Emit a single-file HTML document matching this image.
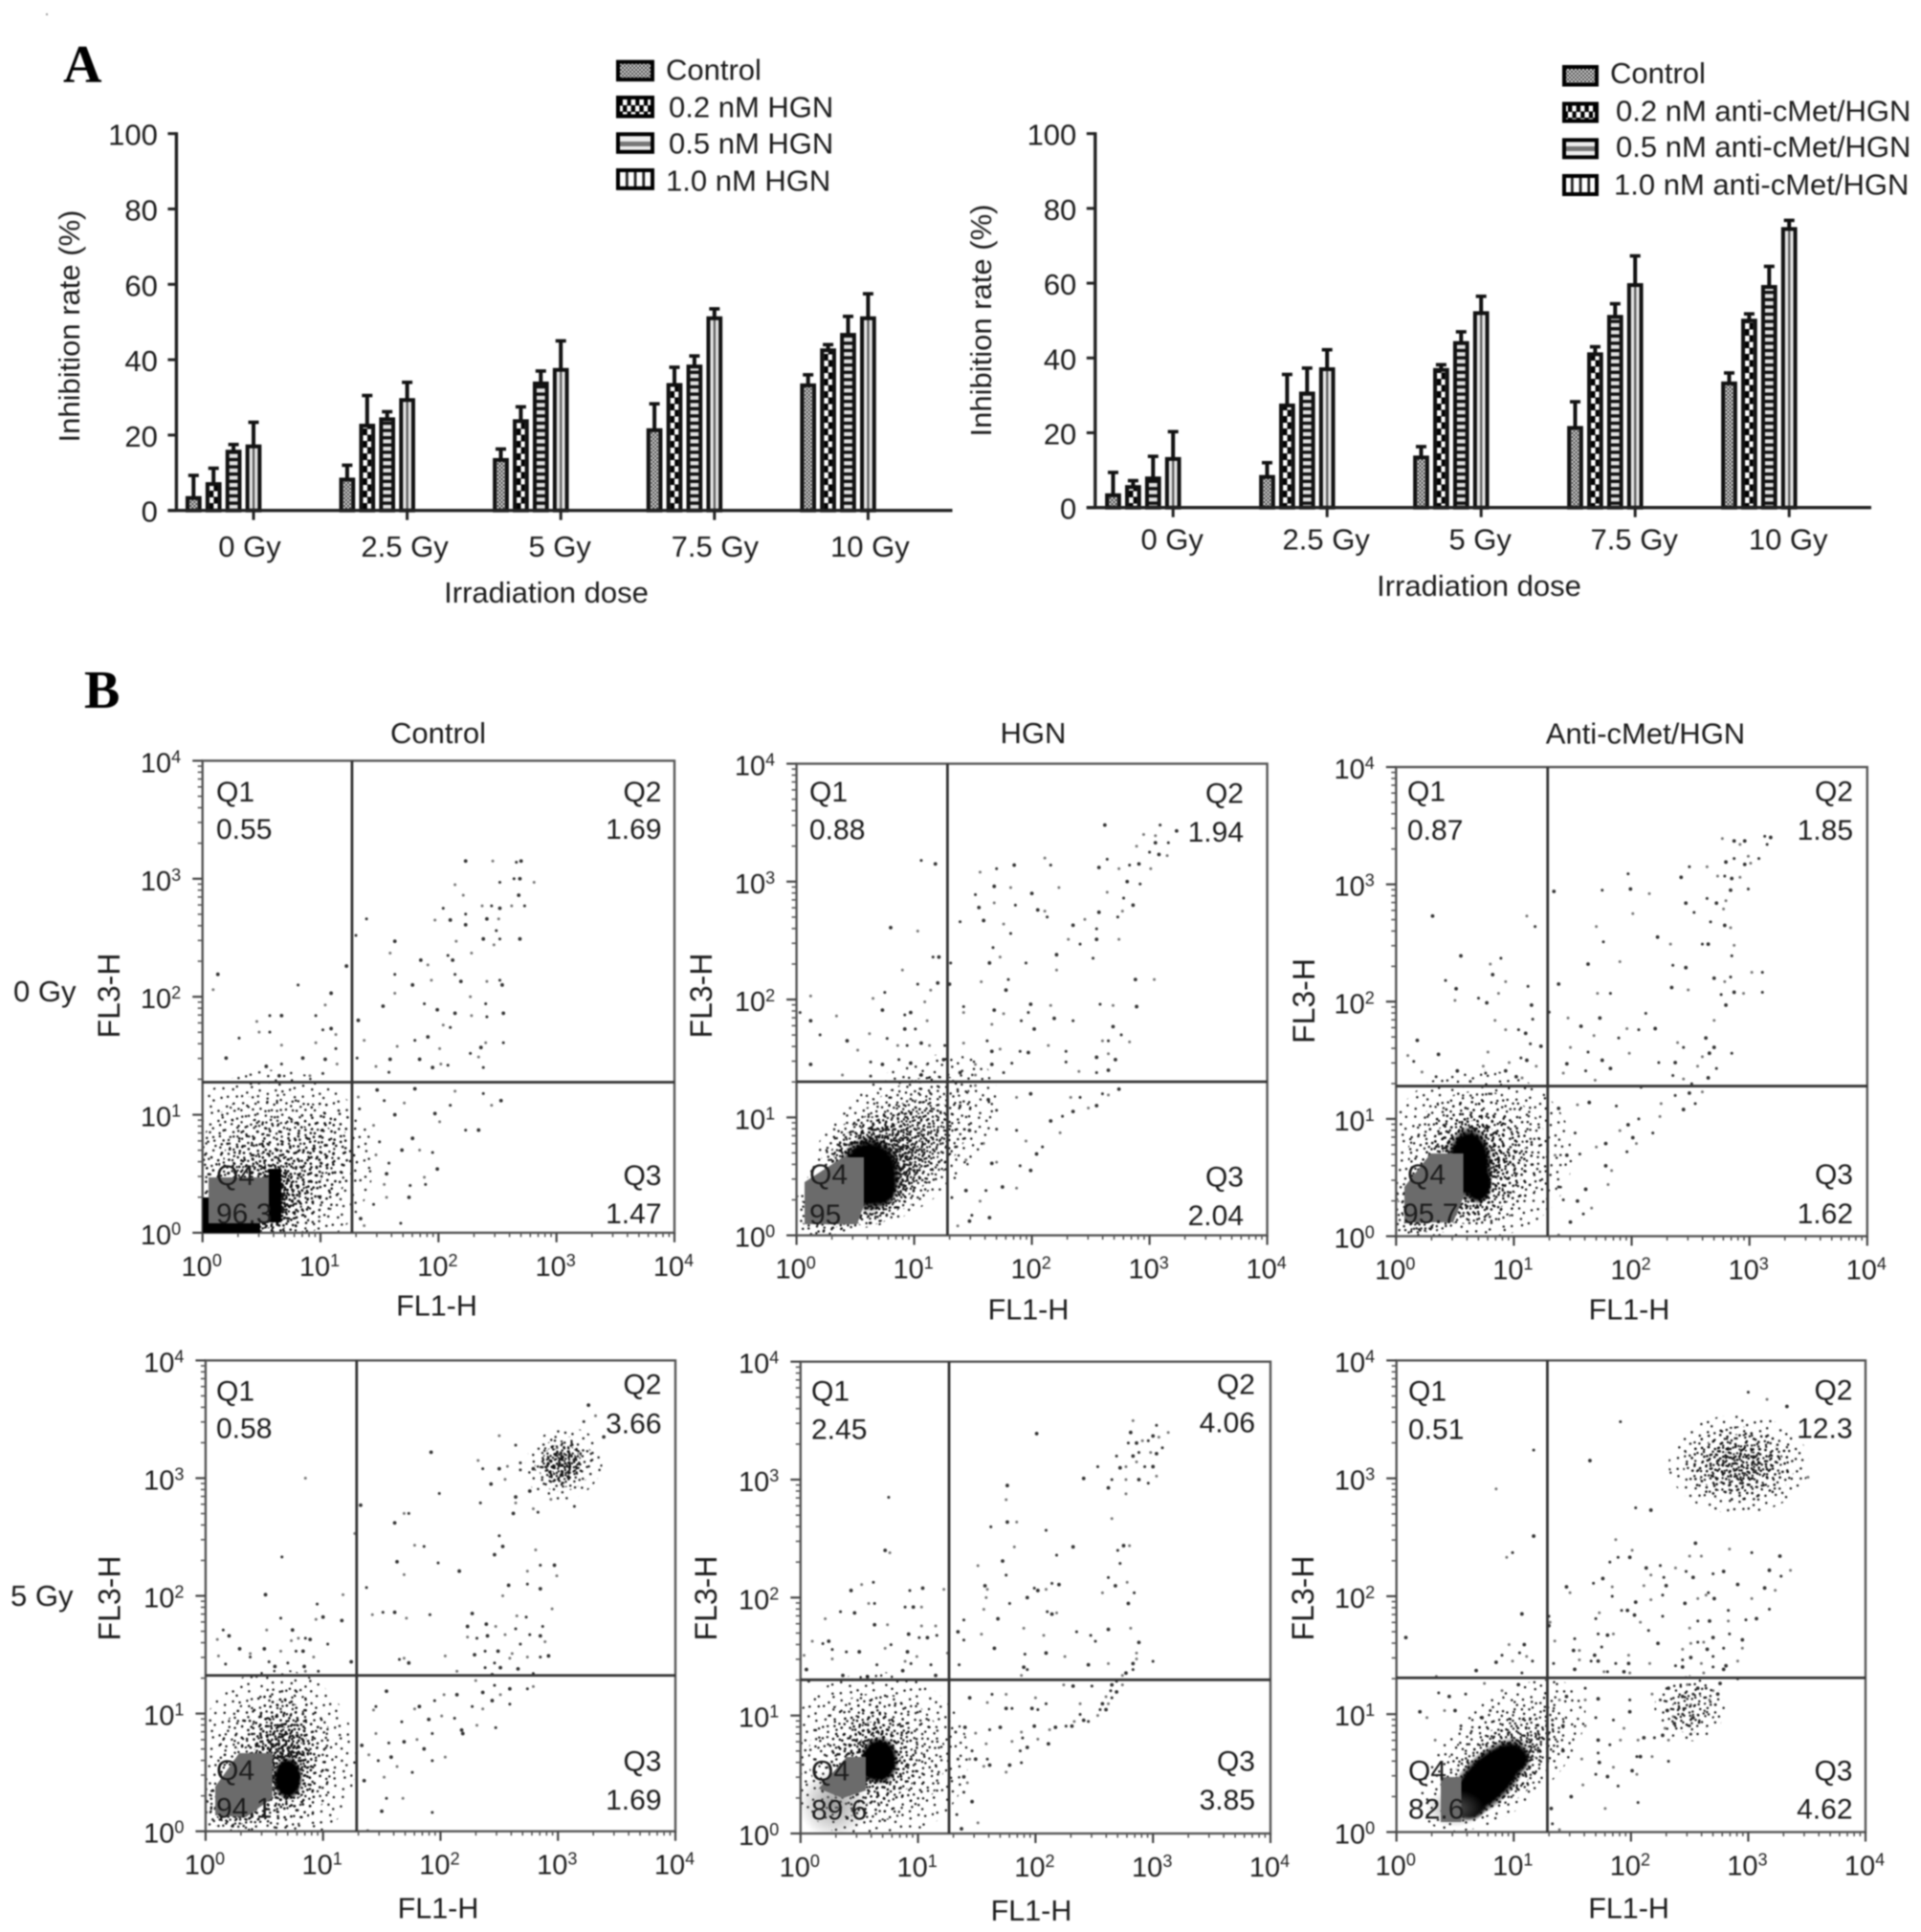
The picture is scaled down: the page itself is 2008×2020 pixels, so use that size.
<!DOCTYPE html>
<html lang="en">
<head>
<meta charset="utf-8">
<title>Inhibition rate and flow cytometry figure</title>
<style>
html,body{margin:0;padding:0;background:#fff;width:2008px;height:2020px;overflow:hidden}
svg{display:block;filter:blur(.7px)}
text{font-family:"Liberation Sans",Arial,sans-serif;fill:#1c1c1c}
.panel-letter{font-family:"Liberation Serif","Times New Roman",serif;font-weight:bold;font-size:56px;fill:#000}
.t30{font-size:31px}
.q{font-size:30px}
.end{text-anchor:end}
.mid{text-anchor:middle}
</style>
</head>
<body>
<svg id="fig" xmlns="http://www.w3.org/2000/svg" width="2008" height="2020" viewBox="0 0 2008 2020">
<defs>
<pattern id="fill-control" patternUnits="userSpaceOnUse" width="4" height="4"><rect width="4" height="4" fill="#ddd"/><rect width="2" height="2" fill="#444"/><rect x="2" y="2" width="2" height="2" fill="#444"/></pattern>
<pattern id="fill-02" patternUnits="userSpaceOnUse" x="-4.35" width="8.7" height="13"><rect width="8.7" height="13" fill="#000"/><rect x="0" y="0" width="4.6" height="6" fill="#fff"/><rect x="4.4" y="6.5" width="4.3" height="6" fill="#fff"/></pattern>
<pattern id="fill-05" patternUnits="userSpaceOnUse" width="8" height="7.6"><rect width="8" height="7.6" fill="#e2e2e2"/><rect width="8" height="3.4" fill="#111"/></pattern>
<pattern id="fill-10" patternUnits="userSpaceOnUse" x="-4.35" width="8.7" height="8"><rect width="8.7" height="8" fill="#e6e6e6"/><rect x="3.3" width="2.2" height="8" fill="#555"/></pattern>
<pattern id="legend-fill-05" patternUnits="userSpaceOnUse" y="2" width="8" height="18"><rect width="8" height="18" fill="#f0f0f0"/><rect y="7" width="8" height="5" fill="#777"/></pattern>
<pattern id="legend-fill-10" patternUnits="userSpaceOnUse" x="-4.35" width="8.7" height="8"><rect width="8.7" height="8" fill="#fff"/><rect x="3" width="2.8" height="8" fill="#222"/></pattern>
<g id="speck-tile"><path fill="none" stroke="#111" stroke-linecap="round" d="M5 9h.1M17 3h.1M28 12h.1M41 6h.1M9 22h.1M22 27h.1M35 19h.1M46 31h.1M3 38h.1M14 44h.1M30 36h.1M40 45h.1M19 15h.1M44 16h.1M11 33h.1M26 4h.1M37 29h.1M6 47h.1M33 46h.1M24 40h.1M1 14h.1M47 41h.1M16 24h.1M29 22h.1M38 10h.1M8 2h.1M21 34h.1M43 24h.1M12 12h.1M35 39h.1"/></g>
<pattern id="s1" patternUnits="userSpaceOnUse" width="48" height="48" patternTransform="rotate(17) scale(1)"><use href="#speck-tile" style="stroke-width:2.4"/></pattern>
<pattern id="s2" patternUnits="userSpaceOnUse" width="48" height="48" patternTransform="rotate(-31) scale(.9)"><use href="#speck-tile" style="stroke-width:2.7"/></pattern>
<pattern id="s3" patternUnits="userSpaceOnUse" width="48" height="48" patternTransform="rotate(53) scale(.8)"><use href="#speck-tile" style="stroke-width:3"/></pattern>
<pattern id="s4" patternUnits="userSpaceOnUse" width="48" height="48" patternTransform="rotate(-71) scale(.7)"><use href="#speck-tile" style="stroke-width:3.4"/></pattern>
<pattern id="s5" patternUnits="userSpaceOnUse" width="48" height="48" patternTransform="rotate(37) scale(.6)"><use href="#speck-tile" style="stroke-width:4"/></pattern>
<pattern id="s6" patternUnits="userSpaceOnUse" width="48" height="48" patternTransform="rotate(-13) scale(.5)"><use href="#speck-tile" style="stroke-width:4.8"/></pattern>
<radialGradient id="solid-grad"><stop offset="0" stop-color="#000"/><stop offset=".72" stop-color="#000"/><stop offset="1" stop-color="#000" stop-opacity="0"/></radialGradient>
<radialGradient id="haze-grad"><stop offset="0" stop-color="#777" stop-opacity=".7"/><stop offset="1" stop-color="#777" stop-opacity="0"/></radialGradient>
</defs>
<rect width="2008" height="2020" fill="#fff"/>
<rect x="48" y="14" width="2" height="2" fill="#999"/>
<g id="dynamic"></g>

<!-- Q4 gray gate patches -->
<g fill="#6b6b6b">
<rect x="212" y="1279" width="60" height="10" fill="#000"/>
<rect x="281" y="1222" width="13" height="56" fill="#000"/>
<rect x="212" y="1252" width="6" height="37" fill="#000"/>
<rect x="218" y="1231" width="63" height="48"/>
<polygon points="841,1280 841,1236 881,1210 903,1210 903,1260 896,1280"/>
<polygon points="1468,1278 1468,1241 1495.5,1206 1529.6,1206 1529.6,1252 1519,1278"/>
<polygon points="225,1898 225,1868 250,1833 284.7,1833 284.7,1880 257,1900"/>
<polygon points="855.7,1870 885,1837 905,1837 905,1872 881,1880"/>
<rect x="1506" y="1858" width="21.5" height="47"/>
</g>

<!-- Panel letters -->
<text class="panel-letter" x="66" y="86">A</text>
<text class="panel-letter" x="88" y="740">B</text>

<!-- Bar chart axis titles -->
<text class="t30" transform="translate(83,341) rotate(-90)" text-anchor="middle">Inhibition rate (%)</text>
<text class="t30 mid" x="571" y="630">Irradiation dose</text>
<text class="t30" transform="translate(1036,335) rotate(-90)" text-anchor="middle">Inhibition rate (%)</text>
<text class="t30 mid" x="1546" y="623">Irradiation dose</text>

<!-- Legend 1 -->
<g>
<g transform="translate(664,0)" stroke="#000" stroke-width="4">
<rect x="-18" y="64.7" width="36" height="18.5" fill="url(#fill-control)"/>
<rect x="-18" y="102" width="36" height="19.5" fill="url(#fill-02)"/>
<rect x="-18" y="140.3" width="36" height="18.5" fill="#eee"/>
<rect x="-16" y="148" width="32" height="5" fill="#777" stroke="none"/>
<rect x="-18" y="178" width="36" height="18.8" fill="url(#legend-fill-10)"/>
</g>
<text class="t30" x="696" y="83.3">Control</text>
<text class="t30" x="699" y="122.3">0.2 nM HGN</text>
<text class="t30" x="699" y="160.7">0.5 nM HGN</text>
<text class="t30" x="696" y="199.3">1.0 nM HGN</text>
</g>

<!-- Legend 2 -->
<g>
<g transform="translate(1652,0)" stroke="#000" stroke-width="4">
<rect x="-17" y="70" width="34" height="18.5" fill="url(#fill-control)"/>
<rect x="-17" y="108.5" width="34" height="18" fill="url(#fill-02)"/>
<rect x="-17" y="146.4" width="34" height="18" fill="#eee"/>
<rect x="-15" y="153" width="30" height="5" fill="#777" stroke="none"/>
<rect x="-17" y="184" width="34" height="19" fill="url(#legend-fill-10)"/>
</g>
<text class="t30" x="1683" y="87">Control</text>
<text class="t30" x="1689" y="126.3">0.2 nM anti-cMet/HGN</text>
<text class="t30" x="1689" y="164">0.5 nM anti-cMet/HGN</text>
<text class="t30" x="1687" y="203.7">1.0 nM anti-cMet/HGN</text>
</g>

<!-- Column & row titles -->
<text class="t30 mid" x="458" y="777">Control</text>
<text class="t30 mid" x="1080" y="777">HGN</text>
<text class="t30 mid" x="1720" y="777.5">Anti-cMet/HGN</text>
<text class="t30" x="14" y="1047">0 Gy</text>
<text class="t30" x="11" y="1679">5 Gy</text>

<!-- Flow axis titles -->
<g>
<text class="mid" style="font-size:30.5px" x="456.5" y="1375.6">FL1-H</text>
<text class="mid" style="font-size:30.5px" x="1075" y="1379.6">FL1-H</text>
<text class="mid" style="font-size:30.5px" x="1703" y="1379.6">FL1-H</text>
<text class="mid" style="font-size:30.5px" x="458" y="2005.7">FL1-H</text>
<text class="mid" style="font-size:30.5px" x="1078" y="2007.8">FL1-H</text>
<text class="mid" style="font-size:30.5px" x="1702.6" y="2005.7">FL1-H</text>
<text style="font-size:32px" text-anchor="middle" transform="translate(125,1041) rotate(-90)">FL3-H</text>
<text style="font-size:32px" text-anchor="middle" transform="translate(744,1041) rotate(-90)">FL3-H</text>
<text style="font-size:32px" text-anchor="middle" transform="translate(1374,1046.5) rotate(-90)">FL3-H</text>
<text style="font-size:32px" text-anchor="middle" transform="translate(125.5,1671) rotate(-90)">FL3-H</text>
<text style="font-size:32px" text-anchor="middle" transform="translate(749,1671) rotate(-90)">FL3-H</text>
<text style="font-size:32px" text-anchor="middle" transform="translate(1373,1671) rotate(-90)">FL3-H</text>
</g>

<!-- Quadrant labels -->
<g>
<text class="q" x="226" y="838">Q1</text><text class="q" x="226" y="877">0.55</text>
<text class="q end" x="691.5" y="838">Q2</text><text class="q end" x="691.5" y="877">1.69</text>
<text class="q" x="226" y="1239">Q4</text><text class="q" x="226" y="1279">96.3</text>
<text class="q end" x="691.5" y="1239">Q3</text><text class="q end" x="691.5" y="1279">1.47</text>
</g>
<g>
<text class="q" x="846" y="838">Q1</text><text class="q" x="846" y="877.5">0.88</text>
<text class="q end" x="1300" y="839.5">Q2</text><text class="q end" x="1300" y="880">1.94</text>
<text class="q" x="846" y="1238">Q4</text><text class="q" x="846" y="1280">95</text>
<text class="q end" x="1300" y="1240.5">Q3</text><text class="q end" x="1300" y="1281">2.04</text>
</g>
<g>
<text class="q" x="1471" y="837.6">Q1</text><text class="q" x="1471" y="878">0.87</text>
<text class="q end" x="1937" y="837.6">Q2</text><text class="q end" x="1937" y="878">1.85</text>
<text class="q" x="1471" y="1237.8">Q4</text><text class="q" x="1466" y="1279">95.7</text>
<text class="q end" x="1937" y="1238">Q3</text><text class="q end" x="1937" y="1279">1.62</text>
</g>
<g>
<text class="q" x="226" y="1464.5">Q1</text><text class="q" x="226" y="1503.7">0.58</text>
<text class="q end" x="691.5" y="1457.6">Q2</text><text class="q end" x="691.5" y="1498.4">3.66</text>
<text class="q" x="226" y="1860.8">Q4</text><text class="q" x="226" y="1900.4">94.1</text>
<text class="q end" x="691.5" y="1851.4">Q3</text><text class="q end" x="691.5" y="1892">1.69</text>
</g>
<g>
<text class="q" x="848" y="1464.5">Q1</text><text class="q" x="848" y="1504.5">2.45</text>
<text class="q end" x="1312" y="1457.6">Q2</text><text class="q end" x="1312" y="1497.6">4.06</text>
<text class="q" x="848" y="1861.6">Q4</text><text class="q" x="848" y="1902.4">89.6</text>
<text class="q end" x="1312" y="1851.4">Q3</text><text class="q end" x="1312" y="1892.2">3.85</text>
</g>
<g>
<text class="q" x="1472" y="1464.5">Q1</text><text class="q" x="1472" y="1504.5">0.51</text>
<text class="q end" x="1936.5" y="1463.7">Q2</text><text class="q end" x="1936.5" y="1503.7">12.3</text>
<text class="q" x="1472" y="1861.6">Q4</text><text class="q" x="1472" y="1901.6">82.6</text>
<text class="q end" x="1936.5" y="1861.6">Q3</text><text class="q end" x="1936.5" y="1901.6">4.62</text>
</g>
</svg>
<script>
// ===== Bar chart data (percent values) =====
const doseCategories = ['0 Gy', '2.5 Gy', '5 Gy', '7.5 Gy', '10 Gy'];
const rateTickLabels = [0, 20, 40, 60, 80, 100];
const hgnControlMean = [3.3, 8.2, 13.4, 21.3, 33.2];
const hgnControlUpper = [9.3, 12, 16.3, 28.3, 36];
const hgn02Mean = [7, 22.5, 23.7, 33.3, 42.5];
const hgn02Upper = [11.2, 30.5, 27.5, 38, 44];
const hgn05Mean = [15.6, 24.2, 33.7, 38.2, 46.6];
const hgn05Upper = [17.5, 26.2, 37, 41, 51.5];
const hgn10Mean = [17, 29.3, 37.3, 51, 51];
const hgn10Upper = [23.4, 34, 45, 53.5, 57.5];
const antiControlMean = [3.3, 8.2, 13.4, 21.3, 33.2];
const antiControlUpper = [9.4, 12, 16.3, 28.3, 36];
const anti02Mean = [5.5, 27.3, 36.8, 41, 50];
const anti02Upper = [7.2, 35.6, 38.2, 43, 51.8];
const anti05Mean = [7.8, 30.5, 44, 51, 59];
const anti05Upper = [13.7, 37.3, 47, 54.5, 64.5];
const anti10Mean = [13, 37, 52, 59.5, 74.5];
const anti10Upper = [20.3, 42.2, 56.5, 67.3, 76.8];
const logTickExponents = [0, 1, 2, 3, 4];

// ===== Flow cytometry events: [log10 FL1-H, log10 FL3-H] =====
const eventsControl0 = [[2.23,3.15],[2.46,3.15],[2.66,3.14],[2.70,3.15],[2.14,2.95],[2.52,2.97],[2.69,3.0],[2.81,2.97],[2.64,3.0],[2.68,2.86],[2.21,2.86],[2.04,2.75],[2.10,2.65],[1.97,2.65],[2.23,2.7],[2.23,2.61],[2.37,2.77],[2.45,2.77],[2.52,2.75],[2.62,2.77],[2.73,2.77],[2.41,2.66],[2.51,2.66],[2.49,2.56],[2.38,2.49],[2.47,2.44],[2.52,2.49],[2.69,2.49],[2.15,2.47],[2.08,2.35],[2.12,2.31],[2.28,2.37],[1.39,2.66],[1.63,2.47],[1.59,2.37],[1.30,2.52],[1.85,2.31],[1.91,2.27],[1.63,2.19],[1.78,2.10],[1.94,2.14],[2.14,2.19],[2.19,2.13],[2.41,2.13],[2.52,2.14],[2.54,2.1],[1.63,2.03],[1.88,1.94],[1.99,1.89],[2.27,2.0],[2.40,1.94],[2.14,1.86],[2.28,1.84],[2.41,1.83],[2.55,1.86],[2.04,1.76],[2.10,1.74],[1.53,1.92],[1.65,1.58],[1.80,1.63],[1.91,1.66],[2.01,1.56],[2.27,1.52],[2.36,1.57],[2.40,1.61],[2.55,1.61],[1.84,1.47],[2.02,1.43],[2.08,1.42],[1.95,1.4],[2.34,1.49],[2.38,1.4],[1.32,1.8],[1.37,1.63],[1.31,1.48],[1.59,1.47],[1.47,1.41],[1.58,1.36],[1.8,1.22],[2.14,1.2],[2.38,1.18],[2.53,1.12],[2.45,1.08],[2.1,1.08],[1.97,1.01],[2.01,.94],[2.23,.87],[2.34,.87],[1.71,1.1],[1.54,1.12],[1.48,1.21],[1.32,1.15],[1.33,1.05],[1.63,1],[1.45,.91],[1.5,.77],[1.78,.8],[1.47,.66],[1.58,.59],[1.69,.7],[1.84,.7],[1.95,.68],[1.99,.54],[1.88,.47],[1.89,.41],[1.56,.5],[1.54,.41],[1.76,.4],[1.75,.3],[1.56,.3],[1.45,.24],[1.34,.12],[1.37,.06],[1.68,.08],[.13,2.19],[.09,2.06],[.81,2.1],[1.09,2.03],[1.04,1.93],[.96,1.84],[1.22,2.26],[.46,1.79],[.57,1.84],[.67,1.84],[.48,1.7],[.31,1.65],[.2,1.48],[.67,1.59],[.57,1.7],[.85,1.48],[.96,1.61],[1.02,1.72],[1.09,1.73],[1.13,1.68],[1.13,1.56],[1.04,1.47],[1.14,1.43],[.67,1.43],[.54,1.41],[.91,1.33],[1.02,1.35],[.65,1.33]];
const eventsHgn0 = [[2.62,3.48],[2.95,3.4],[3.09,3.48],[3.23,3.43],[3.05,3.39],[3.16,3.33],[3.05,3.33],[2.89,3.3],[3.0,3.25],[3.08,3.23],[3.15,3.22],[2.64,3.19],[2.57,3.12],[2.74,3.11],[2.83,3.14],[2.91,3.15],[3.01,3.11],[2.92,2.98],[2.81,3.0],[2.64,2.91],[2.78,2.86],[2.86,2.8],[2.77,2.75],[2.73,2.7],[2.57,2.74],[2.45,2.68],[2.55,2.6],[2.55,2.51],[2.74,2.51],[1.06,3.18],[1.18,3.15],[1.56,3.08],[1.7,3.11],[1.85,3.14],[2.11,3.2],[2.16,3.14],[1.68,2.96],[1.82,2.95],[1.52,2.89],[1.55,2.78],[1.68,2.82],[1.86,2.8],[2,2.9],[2.23,2.95],[1.39,2.66],[1.59,2.67],[1.76,2.64],[1.82,2.56],[2.05,2.76],[2.11,2.75],[2.13,2.7],[2.35,2.63],[2.31,2.51],[2.41,2.47],[.8,2.61],[1.03,2.58],[1.67,2.44],[1.64,2.31],[1.73,2.36],[1.95,2.31],[2.21,2.38],[2.21,2.25],[2.52,2.35],[2.88,2.17],[3.04,2.17],[1.16,2.36],[1.21,2.36],[.9,2.25],[1.03,2.13],[1.2,2.14],[1.14,2.08],[1.31,2.31],[1.3,2.13],[1.57,2.15],[1.8,2.17],[1.78,2.08],[.12,2.03],[.03,1.89],[.12,1.82],[.34,1.86],[.2,1.7],[.43,1.65],[.65,2.01],[.75,2.06],[.73,1.91],[1.09,1.98],[.92,1.87],[.97,1.89],[1.11,1.82],[1.01,1.75],[.92,1.75],[.62,1.71],[.77,1.67],[.12,1.45],[.52,1.57],[.63,1.47],[.73,1.45],[.86,1.61],[.94,1.61],[1.06,1.63],[1.13,1.61],[.87,1.49],[.97,1.46],[1.11,1.45],[1.26,1.61],[1.25,1.49],[.39,1.36],[.63,1.35],[1.06,1.36],[1.42,1.89],[1.42,1.94],[1.68,1.91],[1.76,1.88],[1.97,1.89],[1.99,1.96],[2.16,1.95],[2.35,1.82],[2.19,1.84],[1.66,1.79],[1.91,1.82],[2.02,1.75],[1.42,1.63],[1.62,1.65],[1.66,1.56],[1.73,1.58],[1.9,1.56],[1.97,1.55],[2.14,1.61],[2.29,1.56],[2.55,1.51],[2.6,1.65],[2.65,1.65],[2.69,1.77],[2.69,1.95],[2.58,1.96],[2.89,1.94],[2.83,1.64],[2.76,1.7],[2.71,1.49],[2.65,1.54],[2.55,1.38],[2.65,1.4],[2.4,1.39],[1.83,1.46],[1.66,1.45],[1.52,1.45],[1.76,1.38],[1.39,1.38],[1.52,1.36],[2.29,1.47],[2.74,1.24],[2.65,1.19],[2.6,1.2],[2.55,1.1],[2.48,1.08],[2.41,1.17],[2.35,1.05],[2.33,1.17],[2.26,1.01],[2.16,.97],[2.24,.87],[2.09,.75],[2.04,.69],[1.95,.8],[1.87,.89],[1.99,1.2],[1.87,1.17],[1.7,1.06],[1.63,1.15],[1.52,1.27],[1.39,1.1],[1.47,.89],[1.59,.78],[1.7,.9],[1.66,.61],[1.7,.62],[1.9,.59],[1.99,.55],[1.44,.64],[1.35,.75],[1.75,.41],[1.87,.4],[1.61,.38],[1.44,.38],[1.56,.29],[1.49,.17],[1.64,.15],[1.37,.08],[1.32,.32],[1.47,.12]];
const eventsAnti0 = [[2.87,3.37],[2.92,3.34],[3.13,3.41],[3.18,3.4],[2.77,3.39],[3.15,3.34],[2.96,3.37],[2.99,3.24],[3.08,3.22],[2.96,3.17],[3.01,3.18],[2.87,3.22],[2.8,3.19],[2.73,3.07],[2.79,3.07],[2.85,3.05],[2.92,3.06],[2.49,3.15],[2.42,3.06],[2.64,3.15],[2.99,2.96],[2.84,2.95],[2.8,2.86],[2.64,2.88],[2.72,2.84],[2.78,2.79],[2.67,2.68],[2.79,2.65],[2.84,2.63],[2.53,2.76],[2.46,2.84],[2.15,2.92],[1.97,3.09],[1.99,2.96],[2.01,2.75],[1.75,2.95],[1.34,2.94],[1.7,2.64],[1.76,2.51],[2.22,2.55],[2.33,2.49],[2.6,2.49],[2.65,2.49],[2.87,2.48],[2.85,2.39],[1.63,2.32],[1.9,2.34],[2.35,2.31],[2.46,2.29],[3.02,2.25],[3.11,2.25],[2.7,2.2],[2.79,2.17],[2.84,2.21],[1.38,2.15],[1.71,2.07],[1.82,2.07],[2.34,2.12],[2.48,2.1],[2.76,2.06],[2.87,2.08],[2.95,2.07],[3.11,2.08],[2.8,1.97],[2.7,1.84],[2.12,1.9],[1.73,1.86],[1.46,1.86],[1.3,1.91],[1.57,1.79],[1.96,1.77],[2.06,1.76],[2.2,1.77],[1.68,1.71],[1.89,1.69],[2.63,1.69],[2.39,1.65],[2.44,1.61],[2.7,1.61],[2.6,1.53],[2.85,1.56],[2.66,1.56],[1.48,1.61],[1.63,1.57],[1.75,1.5],[1.98,1.56],[2.23,1.48],[2.37,1.48],[2.56,1.45],[2.72,1.43],[1.45,1.47],[1.42,1.39],[1.61,1.41],[1.82,1.43],[1.69,1.33],[2.35,1.37],[2.65,1.35],[2.44,1.34],[2.51,1.3],[.31,2.73],[1.11,2.73],[1.18,2.64],[.55,2.39],[.8,2.32],[.89,2.37],[.82,2.23],[.93,2.17],[.42,2.18],[.51,2.11],[.5,2.01],[.7,2.03],[.77,1.99],[.87,2.07],[1.12,2.13],[1.15,1.97],[.84,1.84],[1.16,1.85],[.18,1.67],[.93,1.76],[1.04,1.76],[1.1,1.73],[.1,1.54],[.15,1.49],[.36,1.55],[.78,1.57],[1.14,1.64],[1.23,1.62],[.96,1.48],[1.06,1.52],[1.11,1.5],[.22,1.4],[.34,1.36],[.52,1.41],[.74,1.45],[.76,1.39],[.93,1.41],[1.19,1.45],[.63,1.32],[1.02,1.36],[1.07,1.35],[2.37,1.2],[2.49,1.22],[2.6,1.23],[2.54,1.13],[2.44,1.08],[2.25,1.13],[2.08,1.27],[1.64,1.14],[1.54,1.12],[1.87,1.11],[1.38,1.09],[2.24,1.02],[2.06,1.0],[1.97,.95],[1.9,.9],[2.18,.88],[2.01,.84],[2.04,.79],[1.96,.72],[1.78,.79],[1.7,.76],[1.56,.7],[1.45,.69],[1.35,.69],[1.52,.88],[1.78,.6],[1.83,.56],[1.38,.42],[1.61,.4],[1.8,.44],[1.42,.31],[1.54,.3],[1.66,.24],[1.59,.19],[1.48,.12],[1.38,.01]];
const eventsControl5 = [[3.26,3.62],[3.32,3.53],[3.22,3.48],[3.39,3.35],[2.5,3.36],[2.64,3.28],[1.92,3.22],[2.32,3.15],[2.36,3.08],[2.5,3.08],[2.57,3.1],[2.68,3.13],[2.43,2.95],[2.55,2.99],[2.68,3.07],[2.79,3.08],[.85,3.0],[1.99,2.87],[2.64,2.84],[2.64,2.79],[2.34,2.79],[2.62,2.7],[2.79,2.74],[2.83,2.71],[2.76,2.89],[2.94,2.82],[3.14,2.76],[1.32,2.77],[1.69,2.7],[1.73,2.7],[1.61,2.62],[1.27,2.53],[2.5,2.51],[2.53,2.42],[1.78,2.43],[1.86,2.42],[2.46,2.35],[2.81,2.39],[.65,2.33],[1.63,2.29],[1.69,2.18],[1.98,2.28],[2.16,2.21],[2.74,2.21],[2.85,2.26],[2.97,2.26],[2.99,2.17],[2.74,2.1],[2.58,2.09],[2.53,2],[1.37,2.07],[.51,2.01],[1.17,2.01],[.95,1.93],[1,1.82],[1.42,1.84],[1.51,1.86],[1.61,1.86],[1.71,1.81],[1.91,1.84],[2.27,1.85],[2.65,1.83],[2.73,1.82],[2.85,2.06],[2.95,1.89],[2.87,1.74],[2.39,1.76],[2.47,1.74],[2.64,1.72],[2.23,1.74],[2.23,1.65],[2.31,1.64],[2.4,1.66],[2.55,1.67],[2.76,1.67],[2.85,1.66],[2.89,1.61],[2.38,1.53],[2.49,1.53],[2.61,1.51],[2.68,1.59],[2.29,1.5],[2.74,1.48],[2.85,1.48],[2.92,1.49],[2.04,1.49],[1.65,1.46],[1.73,1.43],[1.69,1.47],[2.46,1.43],[2.51,1.39],[2.59,1.47],[2.38,1.39],[2.66,1.38],[2.14,1.36],[2.79,1.34],[2.44,1.33],[.1,1.63],[.15,1.71],[.2,1.66],[.11,1.49],[.17,1.42],[.29,1.55],[.38,1.51],[.38,1.48],[.5,1.55],[.52,1.71],[.64,1.81],[.74,1.71],[.79,1.64],[.85,1.64],[.89,1.63],[.73,1.62],[.77,1.53],[.83,1.53],[.92,1.48],[1.04,1.59],[1.16,1.79],[.94,1.8],[.54,1.44],[.59,1.4],[.64,1.53],[.7,1.43],[.84,1.4],[.85,1.36],[.96,1.36],[1.24,1.44],[2.79,1.23],[2.74,1.21],[2.59,1.21],[2.51,1.16],[2.46,1.24],[2.36,1.18],[2.3,1.28],[2.59,1.08],[2.44,1.11],[2.36,1.04],[2.27,1.06],[2.14,1.16],[2.03,1.16],[1.95,1.11],[1.82,1.06],[1.78,1.04],[1.45,1.06],[1.54,1.19],[1.43,1.03],[1.67,.93],[1.9,.95],[2.01,.98],[2.12,.96],[2.18,.86],[2.31,.9],[2.47,.88],[2.19,.83],[1.45,.83],[1.56,.75],[1.69,.76],[1.8,.78],[1.93,.83],[1.86,.7],[2.04,.63],[1.93,.6],[1.33,.73],[1.39,.65],[1.47,.6],[1.58,.63],[1.63,.55],[1.76,.5],[1.35,.43],[1.52,.46],[1.54,.28],[1.5,.17],[1.68,.28],[1.93,.16],[1.38,0]];
const eventsHgn5 = [[2.01,3.39],[2.83,3.5],[3.03,3.46],[2.81,3.4],[3.13,3.4],[2.69,3.2],[2.72,3.1],[2.77,3.11],[2.79,3.31],[2.86,3.31],[2.91,3.33],[2.96,3.33],[3,3.37],[3.05,3.36],[3.08,3.27],[3.03,3.22],[2.98,3.23],[2.88,3.23],[2.83,3.2],[2.86,3.15],[2.93,3.11],[3,3.11],[3.03,3.03],[2.96,2.97],[2.88,3],[2.77,3],[2.65,3],[2.62,2.93],[2.77,2.88],[2.53,3.11],[2.41,3.01],[2.65,2.67],[2.7,2.4],[2.75,2.44],[2.8,2.44],[2.72,2.29],[1.76,2.95],[1.75,2.83],[1.62,2.6],[1.76,2.64],[1.84,2.64],[2.09,2.57],[2.32,2.43],[1.82,2.43],[2.18,2.36],[1.72,2.31],[1.51,2.27],[.75,2.85],[.72,2.4],[.76,2.38],[2.62,2.17],[2.68,2.1],[2.78,2.13],[1.75,2.19],[1.57,2.1],[1.59,2.07],[1.99,2.08],[2.02,2.06],[2.09,2.07],[2.14,2.12],[2.2,2.11],[1.58,2],[1.78,1.95],[1.93,2],[2.57,2.04],[2.84,2.04],[2.79,1.95],[1.56,1.9],[2.1,1.88],[2.14,1.86],[2.18,1.87],[1.39,1.81],[1.68,1.82],[1.9,1.74],[2.35,1.71],[2.62,1.73],[2.81,1.74],[2.47,1.68],[1.34,1.71],[1.54,1.69],[1.39,1.64],[1.65,1.57],[2.07,1.68],[2.51,1.63],[2.09,1.53],[2.25,1.5],[1.91,1.52],[2.88,1.62],[2.86,1.53],[1.35,1.43],[1.9,1.41],[1.88,1.34],[1.93,1.39],[2.45,1.43],[2.62,1.44],[3,1.46],[2.83,1.44],[2.86,1.48],[2.83,1.39],[2.77,1.36],[2.74,1.34],[2.69,1.29],[2.65,1.26],[2.74,1.26],[2.64,1.21],[2.69,1.2],[2.6,1.16],[2.65,1.15],[2.57,1.1],[2.62,1.1],[2.55,1.05],[2.6,1.05],[2.53,1],[2.45,.95],[2.41,.96],[2.38,1.1],[2.38,1.01],[2.31,.91],[2.33,.95],[2.26,.91],[2.17,.9],[2.12,.88],[2.48,1.25],[2.32,1.25],[2.24,1.26],[2.09,1.1],[1.97,1.06],[1.75,1.18],[1.63,1.18],[1.44,1.15],[1.59,1.11],[1.8,1.06],[1.75,1.06],[2,1.15],[2.02,1.05],[1.99,.91],[1.88,.86],[1.89,.81],[2.11,.76],[2.02,.8],[1.32,.86],[1.4,.9],[1.49,.85],[1.61,.88],[1.7,.9],[1.8,.78],[1.87,.7],[1.93,.73],[1.58,.76],[1.46,.7],[1.49,.63],[1.44,.63],[1.59,.63],[1.61,.58],[1.56,.57],[1.34,.63],[1.78,.58],[1.75,.52],[1.88,.6],[1.39,.48],[1.42,.43],[1.39,.35],[1.46,.27],[1.51,.09],[1.33,.16],[1.37,.04],[.1,1.63],[.19,1.61],[.24,1.63],[.03,1.51],[.27,1.56],[.05,1.39],[.21,1.82],[.34,1.88],[.43,2.06],[.52,2.11],[.62,2.13],[.46,1.87],[.58,1.95],[.63,1.95],[.63,1.77],[.74,1.77],[.89,1.92],[.96,1.92],[1.03,1.92],[.93,2.06],[1.04,2.08],[1.22,2.07],[.39,1.54],[.5,1.54],[.72,1.57],[.77,1.6],[.92,1.69],[1.03,1.76],[1.01,1.66],[1.08,1.66],[1.15,1.76],[1.16,1.68],[.91,1.54],[.89,1.46],[.94,1.44],[.87,1.38],[.99,1.5],[1.11,1.43],[1.15,1.34],[1.25,1.53],[.65,1.43],[.57,1.33],[.27,1.48],[.07,1.29],[.36,1.34]];
const eventsAnti5 = [[.08,1.65],[.85,2.91],[1.17,3.24],[1.17,2.51],[.94,2.33],[.99,2.37],[1.07,1.85],[.96,1.59],[.9,1.5],[.85,1.44],[.99,1.45],[1.05,1.52],[1.09,1.59],[1.11,1.49],[1.16,1.45],[.68,1.37],[.75,1.26],[1.07,1.35],[1.04,1.25],[.34,1.32],[3,3.73],[3.33,3.61],[3.16,3.67],[1.91,3.48],[1.65,3.15],[3.51,3.01],[2.04,2.75],[2.17,2.73],[1.87,2.48],[1.89,2.33],[1.99,2.33],[2.01,2.39],[1.82,2.29],[2.55,2.45],[2.84,2.4],[3.03,2.37],[3.27,2.34],[3.36,2.22],[3.28,2.17],[3.18,2.22],[2.5,2.34],[2.47,2.21],[2.53,2.16],[2.6,2.34],[2.7,2.19],[2.79,2.21],[2.38,2.24],[2.25,2.26],[2.13,2.24],[2.17,2.18],[2.28,2.16],[2.3,2.09],[2.11,2.09],[2.27,2.01],[1.45,2.08],[1.48,2.03],[1.68,2.11],[1.76,2.15],[1.84,2.08],[1.84,2.0],[2.04,1.95],[2.17,1.97],[1.92,1.88],[1.97,1.88],[1.73,1.86],[1.7,1.81],[2.03,1.84],[2.08,1.78],[2.27,1.83],[2.46,1.94],[2.57,1.98],[2.66,2.03],[2.71,1.98],[2.64,2.01],[2.83,1.88],[2.91,2.1],[3.03,1.98],[3.18,1.89],[3.14,2.07],[3.23,2.05],[2.98,1.8],[3.07,1.81],[2.83,1.79],[2.57,1.79],[2.67,1.79],[2.5,1.73],[1.72,1.68],[1.8,1.67],[1.85,1.68],[2.15,1.71],[2.23,1.6],[2.51,1.6],[2.57,1.61],[2.7,1.65],[2.62,1.61],[2.84,1.68],[2.95,1.63],[2.95,1.56],[2.79,1.56],[2.65,1.55],[2.44,1.55],[1.52,1.64],[1.51,1.54],[1.56,1.54],[1.75,1.57],[1.69,1.5],[1.98,1.5],[2.44,1.46],[2.51,1.48],[2.6,1.43],[2.7,1.49],[2.81,1.41],[2.91,1.45],[1.66,1.45],[1.72,1.45],[1.56,1.46],[1.87,1.43],[1.98,1.43],[2.16,1.43],[1.34,1.43],[1.52,1.38],[1.77,1.36],[1.8,1.36],[1.94,1.36],[1.99,1.35],[2.38,1.41],[2.44,1.4],[2.62,1.35],[2.7,1.4],[2.79,1.38],[1.35,1.62],[1.3,1.83],[1.3,1.75],[1.31,1.78],[2.91,1.3],[2.76,1.26],[2.7,1.2],[2.64,1.22],[2.74,1.17],[2.67,1.12],[2.72,1.08],[2.57,1.22],[2.48,1.25],[2.53,1.17],[2.44,1.15],[2.51,1.08],[2.41,1.05],[2.32,1.22],[2.18,1.17],[2.25,1.12],[2.31,1.03],[2.36,.98],[2.44,1],[2.53,.97],[2.58,.93],[2.5,.9],[2.37,.92],[2.29,.88],[2.51,.83],[2.27,.82],[2.32,.78],[2.2,.8],[2.11,.8],[2.06,.78],[1.99,1.12],[1.99,1.02],[1.94,.88],[1.85,.95],[1.72,1.13],[1.61,1.12],[1.61,1.22],[1.45,1.15],[1.39,1.12],[1.33,.95],[1.42,.9],[1.61,.9],[1.7,.97],[1.72,.78],[1.91,.78],[1.82,.74],[1.42,.69],[1.58,.62],[1.72,.67],[1.73,.59],[1.85,.55],[2.05,.64],[2.08,.64],[2.18,.64],[2.32,.6],[2.01,.52],[2.05,.49],[1.7,.49],[1.8,.47],[1.59,.4],[1.89,.39],[1.49,.3],[1.78,.2],[2.06,.25],[1.32,.2],[1.39,.02],[1.33,.07],[.2,1.02],[.26,.97],[.36,1.18],[.45,1.15],[.41,1.03],[.59,1.17],[.5,1.03],[.33,.78],[.55,.9],[.73,.97],[.9,1.2],[.8,1.03]];

// ===== Event density regions: centre x, centre y, radius x, radius y (decades), tilt (deg), density =====
const densityControl0 = [[.6,.6,.85,.78,0,'light'],[1.0,.7,.32,.42,0,'light'],[.55,.38,.58,.5,0,'mid'],[.52,.26,.36,.32,0,'dense'],[.62,.3,.2,.3,0,'dense']];
const densityHgn0 = [[.9,.8,.95,.55,40,'light'],[.8,.65,.6,.42,40,'mid'],[.62,.55,.42,.46,0,'mid'],[.6,.5,.36,.42,0,'dense'],[.62,.52,.28,.33,0,'solid'],[.72,.42,.14,.18,0,'solid'],[.25,.2,.28,.26,0,'mid']];
const densityAnti0 = [[.7,.7,.8,.72,0,'light'],[.68,.62,.5,.55,0,'mid'],[.62,.58,.36,.48,0,'dense'],[.62,.62,.2,.33,0,'solid'],[.7,.45,.12,.18,0,'solid'],[.2,.2,.25,.3,0,'mid']];
const densityControl5 = [[.6,.6,.68,.78,0,'light'],[.65,.65,.38,.58,0,'mid'],[.65,.58,.29,.44,0,'dense'],[.7,.45,.13,.19,0,'solid'],[.25,.22,.32,.28,0,'mid'],[3.05,3.12,.34,.3,30,'light'],[3.03,3.12,.2,.2,30,'dense']];
const densityHgn5 = [[.65,.65,.78,.72,0,'light'],[.62,.65,.38,.5,0,'mid'],[.65,.62,.24,.28,0,'dense'],[.67,.62,.17,.21,0,'solid'],[.6,.55,.08,.1,0,'solid'],[.28,.25,.3,.3,0,'haze']];
const densityAnti5 = [[.9,.65,.85,.45,40,'light'],[.88,.52,.6,.28,40,'mid'],[.78,.45,.46,.22,45,'solid'],[.62,.25,.16,.16,0,'solid'],[.97,.62,.18,.14,0,'solid'],[.5,.2,.25,.16,0,'haze'],[2.92,3.12,.6,.42,0,'light'],[2.92,3.12,.48,.32,0,'mid'],[2.5,1.05,.3,.28,0,'light']];

// Speckle layering used for each density level: radius fraction + pattern id
const densityLayerFractions = {light: [1, .75, .5], mid: [1, .8, .6, .4], dense: [1, .85, .7, .5, .35]};
const densityLayerPatterns = {light: ['s1', 's2', 's3'], mid: ['s2', 's3', 's4', 's5'], dense: ['s3', 's4', 's5', 's6', 's1']};

const NS = 'http://www.w3.org/2000/svg';
const root = document.getElementById('dynamic');
function mk(tag, parent, attrs) {
  const el = document.createElementNS(NS, tag);
  for (const k in attrs) el.setAttribute(k, attrs[k]);
  parent.appendChild(el);
  return el;
}

function drawBarChart(cfg, means, uppers, fills, chartName) {
  const g = mk('g', root, {});
  
  
  const yPos = v => cfg.y0 - (v / 100) * (cfg.y0 - cfg.y100);
  const tickX = i => cfg.tick0 + i * cfg.step;
  const barX = (i, s) => tickX(i) + (s - 3) * 20.9;

  for (let s = 0; s < means.length; s++) {
    for (let i = 0; i < doseCategories.length; i++) {
      const stem = mk('line', g, {x1: barX(i, s), x2: barX(i, s), y1: yPos(means[s][i]), y2: yPos(uppers[s][i]), stroke: '#111', 'stroke-width': 4});
      
      
      const cap = mk('line', g, {x1: barX(i, s) - 5.5, x2: barX(i, s) + 5.5, y1: yPos(uppers[s][i]), y2: yPos(uppers[s][i]), stroke: '#111', 'stroke-width': 3.6});
      
      
      const holder = mk('g', g, {transform: 'translate(' + barX(i, s) + ',0)'});
      const bar = mk('rect', holder, {x: -6.35, width: 12.7, y: yPos(means[s][i]), height: cfg.y0 - yPos(means[s][i]), fill: 'url(#' + fills[s] + ')', stroke: '#111', 'stroke-width': 4});
      
      
    }
  }
  const yAxis = mk('line', g, {x1: cfg.axisX, x2: cfg.axisX, y1: yPos(100) - 1.5, y2: cfg.y0, stroke: '#222', 'stroke-width': 3.4});
  
  
  const xAxis = mk('line', g, {x1: cfg.axisX - 9, x2: cfg.axisEnd, y1: cfg.y0, y2: cfg.y0, stroke: '#222', 'stroke-width': 3.4});
  
  

  rateTickLabels.forEach(v => {
    const t = mk('line', g, {x1: cfg.axisX - 9, x2: cfg.axisX, y1: yPos(v), y2: yPos(v), stroke: '#222', 'stroke-width': 3});
    
    
    const lab = mk('text', g, {x: cfg.axisX - 19.5, y: yPos(v) + 12, 'text-anchor': 'end', 'font-size': 31});
    
    
    lab.textContent = v;
  });
  doseCategories.forEach((c, i) => {
    const t = mk('line', g, {x1: tickX(i), x2: tickX(i), y1: cfg.y0, y2: cfg.y0 + 10, stroke: '#222', 'stroke-width': 3});
    
    
    const lab = mk('text', g, {x: tickX(i) + cfg.labelNudge * (i - 2) + cfg.labelShift, y: cfg.labelY, 'text-anchor': 'middle', 'font-size': 31});
    
    
    lab.textContent = c;
  });
}

function logLabel(parent, x, y, exp, anchor, name) {
  const t = mk('text', parent, {x: x, y: y, 'text-anchor': anchor, 'font-size': 29});
  
  
  t.appendChild(document.createTextNode('10'));
  const sup = mk('tspan', t, {'font-size': 18, dy: -10});
  sup.textContent = exp;
}

let clipCount = 0;
function drawFlowPanel(box, gate, events, density, panelName) {
  const g = mk('g', root, {});
  
  
  const xPos = d => box.left + d / 4 * (box.right - box.left);
  const yPos = d => box.bottom - d / 4 * (box.bottom - box.top);
  const pxX = (box.right - box.left) / 4;
  const pxY = (box.bottom - box.top) / 4;

  const cid = 'clip-' + (++clipCount);
  const defs = mk('clipPath', g, {id: cid});
  mk('rect', defs, {x: box.left, y: box.top, width: box.right - box.left, height: box.bottom - box.top});
  const plot = mk('g', g, {'clip-path': 'url(#' + cid + ')'});

  density.forEach(d => {
    const cx = xPos(d[0]), cy = yPos(d[1]);
    const transform = 'rotate(' + (-d[4]) + ' ' + cx + ' ' + cy + ')';
    if (d[5] === 'solid' || d[5] === 'haze') {
      const blob = mk('ellipse', plot, {cx: cx, cy: cy, rx: d[2] * pxX, ry: d[3] * pxY, transform: transform, fill: 'url(#' + d[5] + '-grad)'});
      
      
    } else {
      densityLayerFractions[d[5]].forEach((frac, k) => {
        const cloud = mk('ellipse', plot, {cx: cx, cy: cy, rx: d[2] * pxX * frac, ry: d[3] * pxY * frac, transform: transform, fill: 'url(#' + densityLayerPatterns[d[5]][k] + ')'});
        
        
      });
    }
  });

  events.forEach((e, i) => {
    const dot = mk('circle', plot, {cx: xPos(e[0]), cy: yPos(e[1]), r: i % 3 === 0 ? 1.9 : 1.5, fill: '#1a1a1a', opacity: i % 3 === 1 ? .6 : .9});
    
    
  });

  const frame = mk('rect', g, {x: box.left, y: box.top, width: box.right - box.left, height: box.bottom - box.top, fill: 'none', stroke: '#555', 'stroke-width': 2.4});
  
  

  const gateV = mk('line', g, {x1: xPos(gate[0]), x2: xPos(gate[0]), y1: box.top, y2: box.bottom, stroke: '#333', 'stroke-width': 2.8});
  
  
  const gateH = mk('line', g, {x1: box.left, x2: box.right, y1: yPos(gate[1]), y2: yPos(gate[1]), stroke: '#333', 'stroke-width': 2.8});
  
  

  logTickExponents.forEach(exp => {
    const tx = mk('line', g, {x1: xPos(exp), x2: xPos(exp), y1: box.bottom, y2: box.bottom + 10, stroke: '#444', 'stroke-width': 2.2});
    
    
    const ty = mk('line', g, {x1: box.left - 10.5, x2: box.left, y1: yPos(exp), y2: yPos(exp), stroke: '#444', 'stroke-width': 2.2});
    
    
    logLabel(g, xPos(exp) - 1, box.bottom + 45, exp, 'middle', 'x-tick-label');
    logLabel(g, box.left - 22.5, yPos(exp) + 12, exp, 'end', 'y-tick-label');
    if (exp < 4) {
      for (let m = 2; m <= 9; m++) {
        const off = exp + Math.log10(m);
        const mx = mk('line', g, {x1: xPos(off), x2: xPos(off), y1: box.bottom, y2: box.bottom + 4.5, stroke: '#555', 'stroke-width': 1.6});
        
        
        const my = mk('line', g, {x1: box.left - 5, x2: box.left, y1: yPos(off), y2: yPos(off), stroke: '#555', 'stroke-width': 1.6});
        
        
      }
    }
  });
}

drawBarChart({y0: 533.7, y100: 139.7, axisX: 184.4, axisEnd: 995.5, tick0: 265, step: 160.6, labelY: 582, labelNudge: 1.5, labelShift: -1},
  [hgnControlMean, hgn02Mean, hgn05Mean, hgn10Mean], [hgnControlUpper, hgn02Upper, hgn05Upper, hgn10Upper],
  ['fill-control', 'fill-02', 'fill-05', 'fill-10'], 'bar-chart-hgn');
drawBarChart({y0: 530.7, y100: 139.7, axisX: 1144.8, axisEnd: 1956, tick0: 1226.2, step: 161, labelY: 574.5, labelNudge: 0, labelShift: -1},
  [antiControlMean, anti02Mean, anti05Mean, anti10Mean], [antiControlUpper, anti02Upper, anti05Upper, anti10Upper],
  ['fill-control', 'fill-02', 'fill-05', 'fill-10'], 'bar-chart-anticmet');

drawFlowPanel({left: 211.7, right: 705, top: 795.4, bottom: 1288.9}, [1.267, 1.276], eventsControl0, densityControl0, 'flow-plot-control-0gy');
drawFlowPanel({left: 832.6, right: 1324.6, top: 798.5, bottom: 1291.6}, [1.283, 1.303], eventsHgn0, densityHgn0, 'flow-plot-hgn-0gy');
drawFlowPanel({left: 1459.3, right: 1951.8, top: 802, bottom: 1292.5}, [1.287, 1.28], eventsAnti0, densityAnti0, 'flow-plot-anticmet-0gy');
drawFlowPanel({left: 214.9, right: 706, top: 1422.4, bottom: 1914.7}, [1.286, 1.324], eventsControl5, densityControl5, 'flow-plot-control-5gy');
drawFlowPanel({left: 836.8, right: 1328, top: 1423.7, bottom: 1917}, [1.264, 1.303], eventsHgn5, densityHgn5, 'flow-plot-hgn-5gy');
drawFlowPanel({left: 1459.7, right: 1950, top: 1422.4, bottom: 1915.5}, [1.287, 1.308], eventsAnti5, densityAnti5, 'flow-plot-anticmet-5gy');
</script>
</body>
</html>
